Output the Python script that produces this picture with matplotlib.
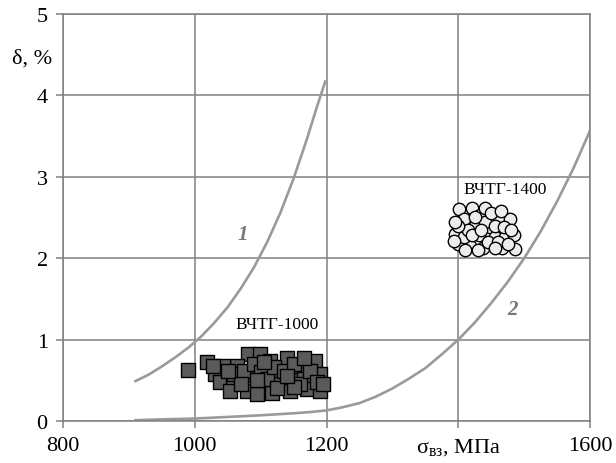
import matplotlib.pyplot as plt

plt.rcParams['font.family'] = ['Liberation Serif', 'DejaVu Serif']
plt.rcParams['mathtext.fontset'] = 'custom'
plt.rcParams['mathtext.rm'] = 'Liberation Serif'
plt.rcParams['mathtext.it'] = 'Liberation Serif:italic'

# curve 1
curve1_x = [910, 930, 950, 970, 990, 1010, 1030, 1050, 1070, 1090, 1110, 1130, 1150,
            1170, 1185, 1198]
curve1_y = [0.49, 0.57, 0.67, 0.78, 0.90, 1.04, 1.21, 1.40, 1.63, 1.89, 2.20, 2.56, 2.98,
            3.46, 3.85, 4.17]

# curve 2
curve2_x = [910, 950, 1000, 1050, 1100, 1150, 1175, 1200, 1225, 1250, 1275, 1300, 1325,
            1350, 1375, 1400, 1425, 1450, 1475, 1500, 1525, 1550, 1575, 1600]
curve2_y = [0.01, 0.02, 0.03, 0.05, 0.07, 0.095, 0.11, 0.13, 0.17, 0.22, 0.30, 0.40, 0.52,
            0.65, 0.82, 1.00, 1.21, 1.45, 1.71, 2.00, 2.33, 2.70, 3.11, 3.57]

# ВЧТГ-1000 points
sq_x = [990, 1018, 1081, 1099, 1114, 1140, 1183, 1190, 1155, 1124, 1084, 1064, 1043,
        1031, 1038, 1058, 1079, 1104, 1129, 1147, 1165, 1170, 1190, 1145, 1117, 1094,
        1053, 1060, 1075, 1090, 1100, 1110, 1120, 1135, 1150, 1160, 1175, 1185, 1070,
        1095, 1125, 1150, 1140, 1105, 1165, 1050, 1028, 1195]
sq_y = [0.63, 0.72, 0.82, 0.82, 0.74, 0.77, 0.74, 0.58, 0.62, 0.56, 0.56, 0.68, 0.68,
        0.58, 0.48, 0.48, 0.37, 0.43, 0.45, 0.50, 0.52, 0.39, 0.37, 0.37, 0.35, 0.33,
        0.37, 0.58, 0.62, 0.70, 0.60, 0.52, 0.66, 0.62, 0.70, 0.45, 0.62, 0.48, 0.45,
        0.50, 0.40, 0.42, 0.55, 0.72, 0.78, 0.62, 0.68, 0.45]

# ВЧТГ-1400 points
ci_x = [1401, 1409, 1420, 1433, 1441, 1461, 1479, 1448, 1431, 1395, 1400, 1418, 1438,
        1456, 1471, 1484, 1486, 1466, 1408, 1425, 1393, 1415, 1440, 1455, 1470, 1450,
        1465, 1425, 1400, 1445, 1460, 1480, 1410, 1430, 1455, 1475, 1395, 1420, 1435]
ci_y = [2.60, 2.48, 2.62, 2.53, 2.62, 2.50, 2.48, 2.38, 2.28, 2.30, 2.17, 2.15, 2.13,
        2.26, 2.26, 2.28, 2.11, 2.13, 2.26, 2.40, 2.21, 2.35, 2.45, 2.40, 2.38, 2.55,
        2.58, 2.50, 2.40, 2.20, 2.20, 2.35, 2.10, 2.10, 2.12, 2.18, 2.45, 2.28, 2.35]

xticks = [800, 1000, 1200, 1400, 1600]
xlabels = ['800', '1000', '1200', r'$\mathregular{σ_{вз}}$, МПа', '1600']
yticks = [0, 1, 2, 3, 4, 5]

grey = '#808080'

fig = plt.figure(figsize=(6.16, 4.64), dpi=100)
ax = fig.add_axes([0.1023, 0.0905, 0.8557, 0.8772])

ax.plot(curve1_x, curve1_y, color='#9a9a9a', lw=1.9, zorder=2, solid_joinstyle='round')
ax.plot(curve2_x, curve2_y, color='#9a9a9a', lw=1.9, zorder=2, solid_joinstyle='round')

ax.scatter(sq_x, sq_y, marker='s', s=88, facecolor='#5a5a5a', edgecolor='black',
           linewidths=1.0, zorder=3)
ax.scatter(ci_x, ci_y, marker='o', s=80, facecolor='#ececec', edgecolor='black',
           linewidths=1.0, zorder=3)

ax.text(1061, 1.19, 'ВЧТГ-1000', fontsize=12.5, va='center', ha='left')
ax.text(1407, 2.85, 'ВЧТГ-1400', fontsize=12.5, va='center', ha='left')
ax.text(1073, 2.30, '1', fontsize=15, style='italic', fontweight='bold', color='#777777',
        ha='center', va='center')
ax.text(1482, 1.38, '2', fontsize=15, style='italic', fontweight='bold', color='#777777',
        ha='center', va='center')

ax.set_xlim(800, 1600)
ax.set_ylim(0, 5)
ax.set_xticks(xticks)
ax.set_xticklabels(xlabels)
ax.set_yticks(yticks)
ax.grid(True, color=grey, lw=1.1)
for sp in ax.spines.values():
    sp.set_color(grey)
    sp.set_linewidth(1.1)
ax.tick_params(direction='out', length=5, width=1.1, color=grey, labelsize=16, pad=6)

fig.text(0.052, 0.873, 'δ, %', fontsize=16, ha='center', va='center')

fig.savefig('out.png', dpi=100)
